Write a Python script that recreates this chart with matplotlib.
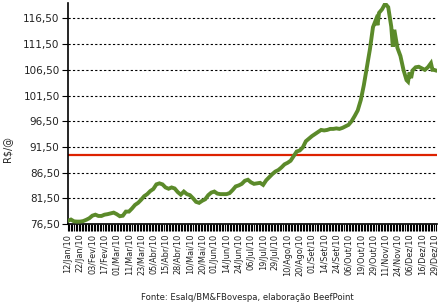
import numpy as np
import matplotlib
matplotlib.use("Agg")
import matplotlib.pyplot as plt

# Indicador do boi gordo 2010 (R$/@), trading-day index -> price
day_idx = [0, 2, 4, 6, 8, 10, 12, 14, 16, 18, 20, 22, 24, 26, 28, 30, 32, 34, 36, 38,
           40, 42, 44, 46, 48, 50, 52, 54, 56, 58, 60, 62, 64, 66, 68, 70, 72, 74, 76, 78,
           80, 82, 84, 86, 88, 90, 92, 94, 96, 98, 100, 102, 104, 106, 108, 110, 112, 114, 116, 118,
           120, 122, 124, 126, 128, 130, 132, 134, 136, 138, 140, 142, 144, 146, 148, 150, 152, 154, 156, 158,
           160, 162, 164, 166, 168, 170, 172, 174, 176, 178, 180, 182, 184, 186, 188, 190, 192, 194, 196, 198,
           200, 202, 203, 204, 206, 208, 210, 211, 212, 213, 214, 216, 218, 220, 222, 223, 224, 225, 226, 228,
           230, 232, 234, 236, 238, 239, 240, 241]
price = [77.1, 77.35, 77.0, 76.95, 76.95, 77.05, 77.3, 77.6, 78.1, 78.3, 78.05, 78.05, 78.3, 78.4, 78.55, 78.7, 78.4, 78.0, 78.1, 78.9,
         78.9, 79.5, 80.2, 80.6, 81.2, 81.9, 82.3, 82.9, 83.3, 84.2, 84.4, 84.2, 83.6, 83.35, 83.6, 83.4, 82.7, 82.2, 82.8, 82.3,
         82.1, 81.5, 80.8, 80.6, 81.0, 81.3, 82.1, 82.6, 82.8, 82.4, 82.3, 82.3, 82.3, 82.5, 83.1, 83.8, 84.0, 84.3, 84.9, 85.1,
         84.6, 84.3, 84.4, 84.5, 84.1, 85.0, 85.6, 86.2, 86.7, 87.0, 87.5, 88.1, 88.4, 88.8, 89.7, 90.6, 90.8, 91.4, 92.6, 93.1,
         93.6, 94.0, 94.4, 94.8, 94.7, 94.8, 95.0, 95.0, 95.1, 95.0, 95.2, 95.5, 95.8, 96.5, 97.5, 98.6, 100.6, 103.5, 107.0, 110.5,
         114.8, 116.3, 115.2, 117.6, 118.3, 119.4, 118.7, 116.8, 114.9, 111.0, 114.3, 110.8, 109.2, 106.5, 104.5, 104.2, 106.0, 104.9, 106.4, 107.0,
         107.1, 106.8, 106.5, 107.0, 107.8, 106.5, 106.5, 106.4]

tick_labels = ["12/Jan/10", "22/Jan/10", "03/Fev/10", "17/Fev/10", "01/Mar/10", "11/Mar/10",
               "23/Mar/10", "05/Abr/10", "15/Abr/10", "28/Abr/10", "10/Mai/10", "20/Mai/10",
               "01/Jun/10", "14/Jun/10", "24/Jun/10", "06/Jul/10", "19/Jul/10", "29/Jul/10",
               "10/Ago/10", "20/Ago/10", "01/Set/10", "14/Set/10", "24/Set/10", "06/Out/10",
               "19/Out/10", "29/Out/10", "11/Nov/10", "24/Nov/10", "06/Dez/10", "16/Dez/10",
               "29/Dez/10"]
label_step = 8
y_ticks = [76.5, 81.5, 86.5, 91.5, 96.5, 101.5, 106.5, 111.5, 116.5]
reference = 90.0
n_days = 242

fig = plt.figure(figsize=(4.41, 3.08), dpi=100)
ax = fig.add_axes([0.154, 0.273, 0.837, 0.717])

ax.plot(day_idx, price, color="#5b8a2a", linewidth=2.8, solid_joinstyle="miter", zorder=3)
ax.axhline(reference, color="#dd2200", linewidth=1.6, zorder=2)

ax.set_xlim(0, n_days)
ax.set_ylim(76.5, 119.5)

ax.set_yticks(y_ticks)
ax.set_yticklabels([f"{v:.2f}".replace(".", ",") for v in y_ticks], fontsize=7.5, color="#222222")
ax.yaxis.grid(True, color="black", linestyle=(0, (2, 2)), linewidth=0.8)

ax.set_xticks(np.arange(0, label_step * len(tick_labels), label_step))
ax.set_xticklabels(tick_labels, rotation=90, fontsize=5.9, color="#222222")
ax.set_xticks(np.arange(0, n_days), minor=True)
ax.tick_params(axis="x", which="both", direction="out", length=5, width=0.8, color="black", pad=2)
ax.tick_params(axis="y", direction="out", length=4, width=0.8, pad=2)

for side in ("top", "right"):
    ax.spines[side].set_visible(False)
for side in ("left", "bottom"):
    ax.spines[side].set_linewidth(1.2)

ax.set_ylabel("R$/@", fontsize=7, color="#222222")
ax.yaxis.set_label_coords(-0.152, 0.34)
fig.text(0.562, 0.018, "Fonte: Esalq/BM&FBovespa, elaboração BeefPoint", ha="center", va="bottom",
         fontsize=6.1, color="#222222")

fig.savefig("out.png", dpi=100)
